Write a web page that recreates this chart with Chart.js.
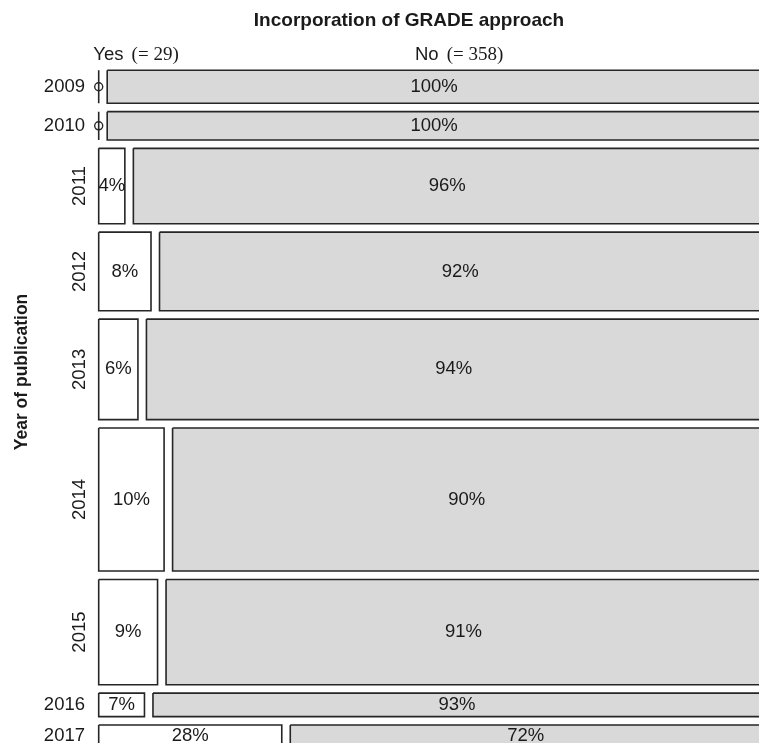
<!DOCTYPE html>
<html>
<head>
<meta charset="utf-8">
<script src="https://cdn.jsdelivr.net/npm/chart.js@4.4.1/dist/chart.umd.min.js"></script>
<style>
  html, body { margin: 0; padding: 0; background: #fff; }
  #wrap { width: 759px; height: 743px; overflow: hidden; position: relative; }
  canvas { display: block; }
</style>
</head>
<body>
<div id="wrap"><canvas id="mosaicChart" width="818" height="780"></canvas></div>
<script>
// Data per year of publication
var years = ['2009', '2010', '2011', '2012', '2013', '2014', '2015', '2016', '2017'];
var totals = [21, 18, 48, 50, 64, 91, 67, 15, 14];
var yesPct = [0, 0, 4, 8, 6, 10, 9, 7, 28];
var noPct = [100, 100, 96, 92, 94, 90, 91, 93, 72];
var columnNames = ['Yes', 'No'];
var columnCounts = ['29', '358'];

var gapX = 1.3;   // space between yes / no cells (percent units)
var gapY = 5.35;  // space between year rows (study units)

var sans = '"Liberation Sans", Arial, Helvetica, sans-serif';
var serif = '"Liberation Serif", "Times New Roman", serif';
Chart.defaults.font.family = sans;

// row extents along the y axis
var rowTop = [], rowBottom = [];
var acc = 0;
for (var i = 0; i < years.length; i++) {
    rowTop.push(acc);
    rowBottom.push(acc + totals[i]);
    acc += totals[i] + gapY;
}
var yEnd = acc - gapY;

function cell(x0, x1, y0, y1) {
    return [{x: x0, y: y0}, {x: x1, y: y0}, {x: x1, y: y1}, {x: x0, y: y1}, {x: x0, y: y0}];
}

var edge = '#262626';
var datasets = [];
for (var i = 0; i < years.length; i++) {
    if (yesPct[i] > 0) {
        datasets.push({
            data: cell(0, yesPct[i], rowTop[i], rowBottom[i]),
            backgroundColor: '#ffffff',
            borderColor: edge,
            fill: 'shape'
        });
    } else {
        // empty cell: line with small circle
        datasets.push({
            data: [{x: 0, y: rowTop[i]}, {x: 0, y: rowBottom[i]}],
            borderColor: edge,
            fill: false
        });
        datasets.push({
            data: [{x: 0, y: (rowTop[i] + rowBottom[i]) / 2}],
            showLine: false,
            pointRadius: 4,
            pointBorderWidth: 1.4,
            pointBorderColor: edge,
            pointBackgroundColor: 'rgba(0,0,0,0)'
        });
    }
    var noStart = yesPct[i] + gapX;
    datasets.push({
        data: cell(noStart, noStart + noPct[i], rowTop[i], rowBottom[i]),
        backgroundColor: '#d9d9d9',
        borderColor: edge,
        fill: 'shape'
    });
}

var textPlugin = {
    id: 'mosaicText',
    afterDatasetsDraw: function(chart) {
        var ctx = chart.ctx;
        var xs = chart.scales.x, ys = chart.scales.y;
        var x0 = xs.getPixelForValue(0);
        ctx.save();
        ctx.fillStyle = '#1a1a1a';

        // cell percentages + year labels
        ctx.font = '18.5px ' + sans;
        for (var i = 0; i < years.length; i++) {
            var yTop = ys.getPixelForValue(rowTop[i]);
            var yBot = ys.getPixelForValue(rowBottom[i]);
            var yMid = (yTop + yBot) / 2;
            ctx.textAlign = 'center';
            ctx.textBaseline = 'middle';
            if (yesPct[i] > 0) {
                ctx.fillText(yesPct[i] + '%', xs.getPixelForValue(yesPct[i] / 2), yMid);
            }
            var noStart = yesPct[i] + gapX;
            ctx.fillText(noPct[i] + '%', xs.getPixelForValue(noStart + noPct[i] / 2), yMid);

            var lx = x0 - 13.7;
            if (yBot - yTop > 50) {
                ctx.save();
                ctx.translate(lx, yMid);
                ctx.rotate(-Math.PI / 2);
                ctx.textAlign = 'center';
                ctx.textBaseline = 'alphabetic';
                ctx.fillText(years[i], 0, 0);
                ctx.restore();
            } else {
                ctx.textAlign = 'right';
                ctx.fillText(years[i], lx, yMid);
            }
        }

        // column headers
        ctx.textAlign = 'left';
        ctx.textBaseline = 'alphabetic';
        var headX = [x0 - 5.4, 415];
        for (var j = 0; j < columnNames.length; j++) {
            ctx.font = '18.5px ' + sans;
            ctx.fillText(columnNames[j], headX[j], 60);
            var w = ctx.measureText(columnNames[j] + ' ').width;
            ctx.font = '19px ' + serif;
            ctx.fillText('(= ' + columnCounts[j] + ')', headX[j] + w + 3, 60);
        }

        // y axis title
        ctx.font = 'bold 17.5px ' + sans;
        ctx.translate(22, 372);
        ctx.rotate(-Math.PI / 2);
        ctx.textAlign = 'center';
        ctx.textBaseline = 'middle';
        ctx.fillText('Year of publication', 0, 0);
        ctx.restore();
    }
};

var ctxMosaic = document.getElementById('mosaicChart').getContext('2d');
new Chart(ctxMosaic, {
    type: 'scatter',
    data: { datasets: datasets },
    options: {
        responsive: false,
        animation: false,
        showLine: true,
        datasets: {
            scatter: { showLine: true, pointRadius: 0, borderWidth: 1.6, clip: false }
        },
        elements: {
            line: { tension: 0, borderJoinStyle: 'miter' },
            point: { radius: 0, hoverRadius: 0 }
        },
        layout: { padding: { left: 53, right: 53, top: 0, bottom: 29.8 } },
        plugins: {
            legend: { display: false },
            tooltip: { enabled: false },
            title: {
                display: true,
                text: 'Incorporation of GRADE approach',
                color: '#1a1a1a',
                font: { size: 19, weight: 'bold' },
                padding: { top: 9, bottom: 36.9 }
            }
        },
        scales: {
            x: { type: 'linear', display: false, min: -6.99, max: 101.91 },
            y: { type: 'linear', display: false, reverse: true, min: -1, max: yEnd + 2 }
        }
    },
    plugins: [textPlugin]
});
</script>
</body>
</html>
